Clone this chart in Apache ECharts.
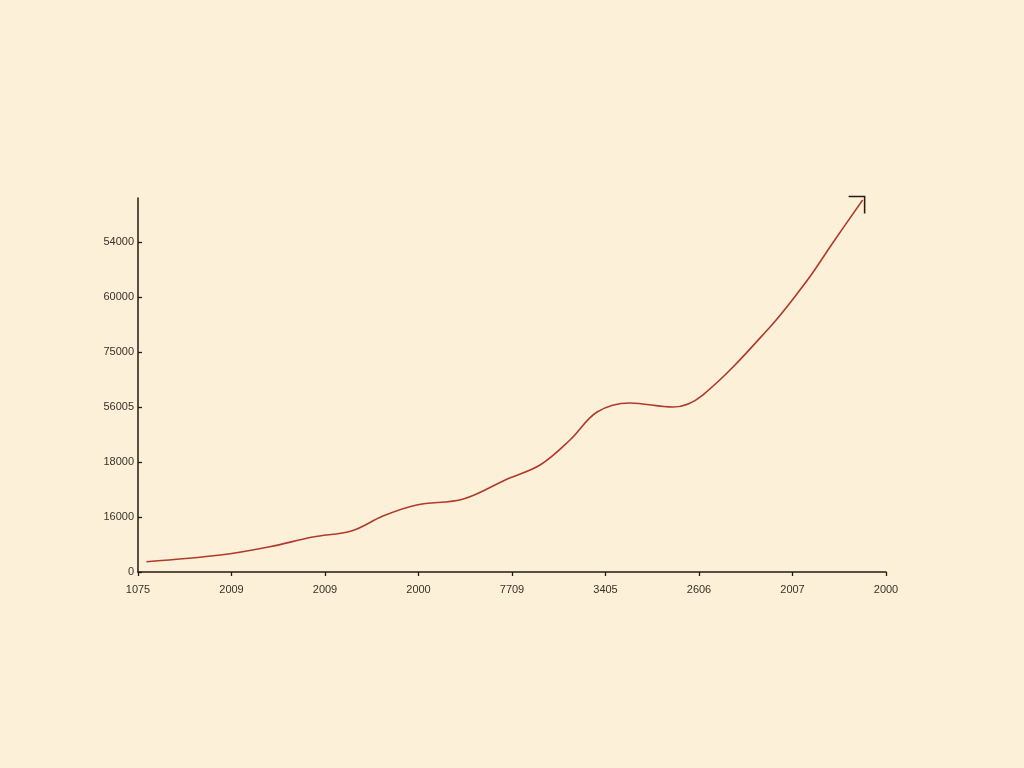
<!DOCTYPE html>
<html>
<head>
<meta charset="utf-8">
<script src="https://cdn.jsdelivr.net/npm/echarts@6/dist/echarts.min.js"></script>
<style>
  html, body { margin: 0; padding: 0; background: #fcf0d8; }
  #chart { width: 1024px; height: 768px; }
</style>
</head>
<body>
<div id="chart"></div>
<script>
// tick labels as printed on the axes
const xLabels = ['1075', '2009', '2009', '2000', '7709', '3405', '2606', '2007', '2000']
const yLabels = ['0', '16000', '18000', '56005', '75000', '60000', '54000']

// line points: x in tick positions, y in axis units (one tick = 10000)
const xPos = [0.09, 0.88, 1.41, 1.87, 2.29, 2.62, 2.98, 3.48, 3.95, 4.30, 4.62, 4.91, 5.26, 5.72, 6.04, 6.76, 7.16, 7.43, 7.75]
const yVal = [1870, 3090, 4600, 6360, 7510, 10180, 12180, 13270, 16910, 19450, 24000, 29090, 30730, 30000, 32180, 44550, 53090, 59820, 67640]

let chart = echarts.init(document.getElementById('chart'))

let points = xPos.map((x, i) => {
  let p = { value: [x, yVal[i]] }
  if (i === xPos.length - 1) {
    // little corner arrow at the end of the line
    p.symbol = 'path://M0,0 L16,0 L16,17'
    p.symbolSize = [16, 17]
    p.symbolOffset = [-6, 5]
    p.itemStyle = { color: 'none', borderColor: '#2b1a12', borderWidth: 1.6 }
  }
  return p
})

let axisFont = { fontFamily: 'Liberation Sans', fontSize: 11, color: '#3a3028' }

chart.setOption({
  backgroundColor: '#fcf0d8',
  animation: false,
  grid: { left: 138, right: 138, top: 198, bottom: 196 },
  xAxis: {
    type: 'value', min: 0, max: 8, interval: 1,
    axisLine: { lineStyle: { color: '#241a14', width: 1.5 } },
    axisTick: { show: true, length: 4, lineStyle: { color: '#241a14', width: 1.3 } },
    splitLine: { show: false },
    axisLabel: Object.assign({ margin: 12, formatter: v => xLabels[Math.round(v)] || '' }, axisFont)
  },
  yAxis: {
    type: 'value', min: 0, max: 68000, interval: 10000,
    axisLine: { show: true, lineStyle: { color: '#241a14', width: 1.5 } },
    axisTick: { show: true, inside: true, length: 4, lineStyle: { color: '#241a14', width: 1.3 } },
    splitLine: { show: false },
    axisLabel: Object.assign({ margin: 4, showMaxLabel: false, formatter: v => yLabels[Math.round(v / 10000)] || '' }, axisFont)
  },
  series: [{
    type: 'line',
    smooth: 0.35,
    symbol: 'none',
    showSymbol: true,
    data: points,
    lineStyle: { color: '#b03a2c', width: 1.6 }
  }]
})
</script>
</body>
</html>
